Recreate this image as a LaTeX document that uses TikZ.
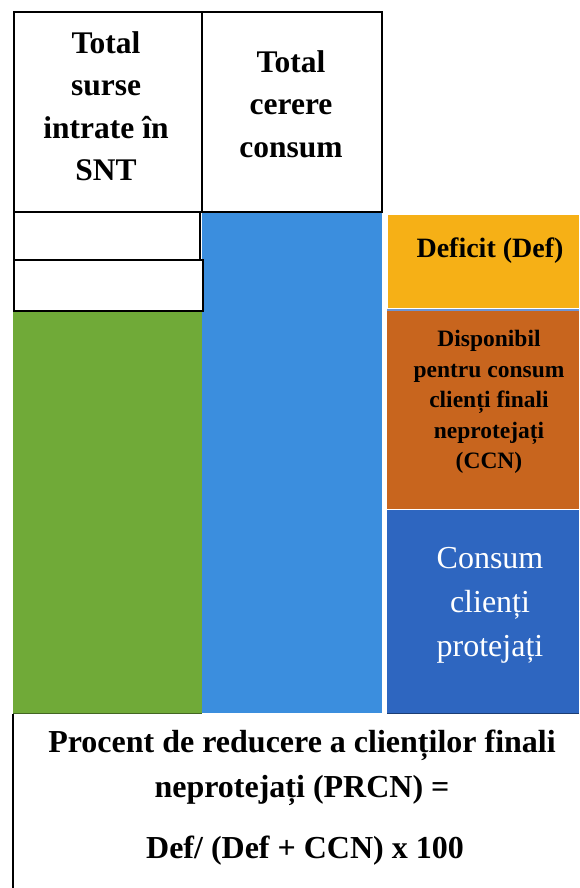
\documentclass[tikz,border=0pt]{standalone}
\usepackage{fontspec}
\setmainfont{Liberation Serif}
\definecolor{cgreen}{RGB}{112,170,56}
\definecolor{cblue}{RGB}{59,142,222}
\definecolor{cyellow}{RGB}{246,176,22}
\definecolor{corange}{RGB}{200,101,30}
\definecolor{cdblue}{RGB}{46,102,192}
\tikzset{
  wbox/.style={draw=black, line width=2.4pt, fill=white, anchor=north west, inner sep=0pt},
  cbox/.style={draw=none, anchor=north west, inner sep=0pt},
  lbl/.style={align=center, inner sep=0pt, text=black},
}
\begin{document}
\begin{tikzpicture}[x=1pt,y=-1pt]
\useasboundingbox[fill=white] (0,0) rectangle (579,888);
% column 3
\node[cbox, fill=cyellow, minimum width=191pt, minimum height=93pt] (def) at (388,215) {};
\node[cbox, fill=corange, minimum width=192pt, minimum height=199pt] (ccn) at (387,310) {};
\node[cbox, fill=cdblue, minimum width=192pt, minimum height=203pt] (cp) at (387,510) {};
\draw[line width=1.2pt, draw=cdblue!60!black] (cp.south west) -- (cp.south east);
\draw[line width=1.5pt, draw=cdblue!70] (ccn.north west) -- (ccn.north east);
% column 2
\node[cbox, fill=cblue, minimum width=180pt, minimum height=503pt] (cc) at (202,210) {};
% column 1
\node[cbox, fill=cgreen, minimum width=189pt, minimum height=402pt] (gr) at (13,311) {};
\draw[line width=1.2pt, draw=cgreen!60!black] (gr.south west) -- (gr.south east);
\node[wbox, minimum width=188pt, minimum height=200pt] (tsrc) at (13,11) {};
\node[wbox, minimum width=180pt, minimum height=200pt] (tcer) at (201,11) {};
\node[wbox, minimum width=186pt, minimum height=48pt] (b1) at (13,211) {};
\node[wbox, minimum width=189pt, minimum height=51pt] (b2) at (13,259) {};
% bottom box left edge
\coordinate (bl1) at (13,714);
\coordinate (bl2) at (13,888);
\draw[line width=2pt] (bl1) -- (bl2);
% texts
\node[lbl, font=\bfseries\fontsize{31.5}{42.5}\selectfont] (t1) at (106,106) {Total\\surse\\intrate în\\SNT};
\node[lbl, font=\bfseries\fontsize{31.5}{42.5}\selectfont] (t2) at (291,104) {Total\\cerere\\consum};
\node[lbl, font=\bfseries\fontsize{28}{30}\selectfont] (t3) at (490,251) {Deficit (Def)};
\node[lbl, font=\bfseries\fontsize{23.5}{30.5}\selectfont] (t4) at (489,402) {Disponibil\\pentru consum\\clienți finali\\neprotejați\\(CCN)};
\node[lbl, text=white, font=\fontsize{32}{44}\selectfont] (t5) at (490,605) {Consum\\clienți\\protejați};
\node[lbl, font=\bfseries\fontsize{32}{45}\selectfont] (t6) at (302,768) {Procent de reducere a clienților finali\\neprotejați (PRCN) =};
\node[lbl, font=\bfseries\fontsize{32}{45}\selectfont] (t7) at (305,851) {Def/ (Def + CCN) x 100};
\end{tikzpicture}
\end{document}
